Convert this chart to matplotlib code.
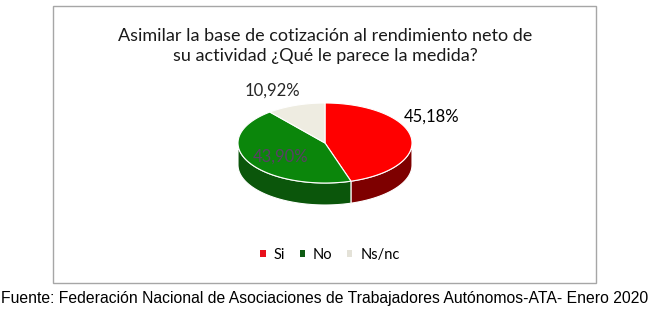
import matplotlib
matplotlib.use("Agg")
import matplotlib.pyplot as plt
import numpy as np
from matplotlib.patches import Polygon, Rectangle, Patch

categories = ["Si", "No", "Ns/nc"]
shares = [45.18, 43.90, 10.92]
labels = ["45,18%", "43,90%", "10,92%"]
title = "Asimilar la base de cotización al rendimiento neto de\nsu actividad ¿Qué le parece la medida?"
source = "Fuente: Federación Nacional de Asociaciones de Trabajadores Autónomos-ATA- Enero 2020"

top_colors = ["#ff0000", "#0b860b", "#eeece1"]
side_colors = ["#7e0000", "#0b560b", "#bcb9a8"]
legend_colors = ["#e8101c", "#0d5a12", "#e4e2d8"]
label_colors = ["#000000", "#5a3f66", "#262626"]
# label offsets from ellipse point at mid-angle (radius factor, dx, dy)
label_pos = [(1.0, 21, -20), (0.55, -2, 3), (1.0, -23, -15)]

W, H = 650, 311
fig = plt.figure(figsize=(W / 100, H / 100), dpi=100)
ax = fig.add_axes([0, 0, 1, 1])
ax.set_xlim(0, W)
ax.set_ylim(H, 0)
ax.axis("off")

# chart frame
ax.add_patch(Rectangle((53, 6), 543, 277, fill=False, edgecolor="#a6a6a6", lw=1))

ax.text(325, 46, title, ha="center", va="center", fontsize=13.0,
        family="Lato", color="#1a1a1a", linespacing=1.33)

cx, cy, rx, ry, depth = 325, 143, 87, 40, 22


def pt(theta, dy=0.0):
    t = np.radians(theta)
    return cx + rx * np.sin(t), cy - ry * np.cos(t) + dy


fracs = np.array(shares) / sum(shares) * 360
starts = np.concatenate([[0], np.cumsum(fracs)[:-1]])

# side faces (front half, theta in 90..270)
for s, f, col in zip(starts, fracs, side_colors):
    a, b = max(s, 90), min(s + f, 270)
    if a >= b:
        continue
    th = np.linspace(a, b, 60)
    upper = [pt(t) for t in th]
    lower = [pt(t, depth) for t in th[::-1]]
    ax.add_patch(Polygon(upper + lower, closed=True, facecolor=col,
                         edgecolor="white", lw=0.8))

# top faces
for s, f, col in zip(starts, fracs, top_colors):
    th = np.linspace(s, s + f, 120)
    pts = [(cx, cy)] + [pt(t) for t in th]
    ax.add_patch(Polygon(pts, closed=True, facecolor=col, edgecolor="white", lw=0.8))

# data labels
for s, f, lab, col, (rf, dx, dy) in zip(starts, fracs, labels, label_colors, label_pos):
    t = np.radians(s + f / 2)
    x = cx + rf * rx * np.sin(t) + dx
    y = cy - rf * ry * np.cos(t) + dy
    ax.text(x, y, lab, ha="center", va="center", fontsize=12, family="Lato", color=col)

handles = [Patch(facecolor=c, edgecolor="none") for c in legend_colors]
leg = ax.legend(handles, categories, loc="center", bbox_to_anchor=(330 / W, 1 - 255 / H),
                ncol=3, frameon=False, handlelength=0.35, handleheight=0.35,
                handletextpad=0.55, columnspacing=1.0,
                prop={"family": "Lato", "size": 10.5})

ax.text(325, 299, source, ha="center", va="center", fontsize=11.3,
        family="Liberation Sans", color="black")

fig.savefig("out.png", dpi=100)
